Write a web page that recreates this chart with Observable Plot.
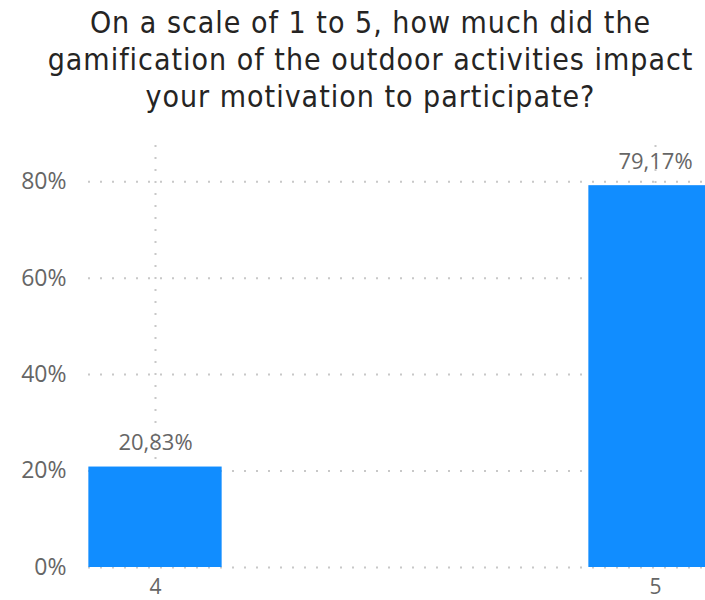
<!DOCTYPE html>
<html>
<head>
<meta charset="utf-8">
<script src="https://cdn.jsdelivr.net/npm/d3@7"></script>
<script src="https://cdn.jsdelivr.net/npm/@observablehq/plot@0.6"></script>
<style>
  html, body { margin: 0; padding: 0; background: #fff; }
  #title {
    width: 705px; height: 130px; box-sizing: border-box; padding-top: 4px; padding-left: 36px;
    text-align: center; font-family: "DejaVu Sans Condensed", "DejaVu Sans", sans-serif;
    font-size: 30px; letter-spacing: 1px; line-height: 37px; color: #252423;
  }
  #chart svg { display: block; overflow: visible; }
</style>
</head>
<body>
<div id="title">On a scale of 1 to 5, how much did the<br>gamification of the outdoor activities impact<br>your motivation to participate?</div>
<div id="chart"></div>
<script>
const categories = [4, 5];
const shares = [0.2083, 0.7917];
const shareLabels = ["20,83%", "79,17%"];
const yTicks = [0, 0.2, 0.4, 0.6, 0.8];
const yTickLabels = ["0%", "20%", "40%", "60%", "80%"];

const data = categories.map((k, i) => ({k, v: shares[i], label: shareLabels[i]}));
const halfBar = 0.1333;
const gridStyle = {stroke: "#c8c8c8", strokeWidth: 2, strokeDasharray: "2,10", strokeOpacity: 1};

const chart = Plot.plot({
  width: 705,
  height: 470,
  marginTop: 15,
  marginBottom: 33,
  marginLeft: 88,
  marginRight: 0,
  style: {fontFamily: "'Segoe UI', 'Open Sans', sans-serif", color: "#666666", background: "#fff"},
  x: {type: "linear", domain: [3.866, 5.1]},
  y: {domain: [0, 0.875]},
  marks: [
    Plot.ruleY(yTicks, gridStyle),
    Plot.ruleX(categories, gridStyle),
    Plot.rectY(data, {x1: d => d.k - halfBar, x2: d => d.k + halfBar, y: "v", fill: "#118DFF", clip: true}),
    Plot.text(data, {x: "k", y: "v", text: "label", lineAnchor: "bottom", dy: -17, fontSize: 22, fill: "#666666"}),
    Plot.axisY({ticks: yTicks, tickFormat: (d, i) => yTickLabels[i], tickSize: 0, tickPadding: 22, fontSize: 23, label: null}),
    Plot.axisX({ticks: categories, tickFormat: d => String(d), tickSize: 0, tickPadding: 12, fontSize: 21, label: null})
  ]
});
document.getElementById("chart").appendChild(chart);
</script>
</body>
</html>
